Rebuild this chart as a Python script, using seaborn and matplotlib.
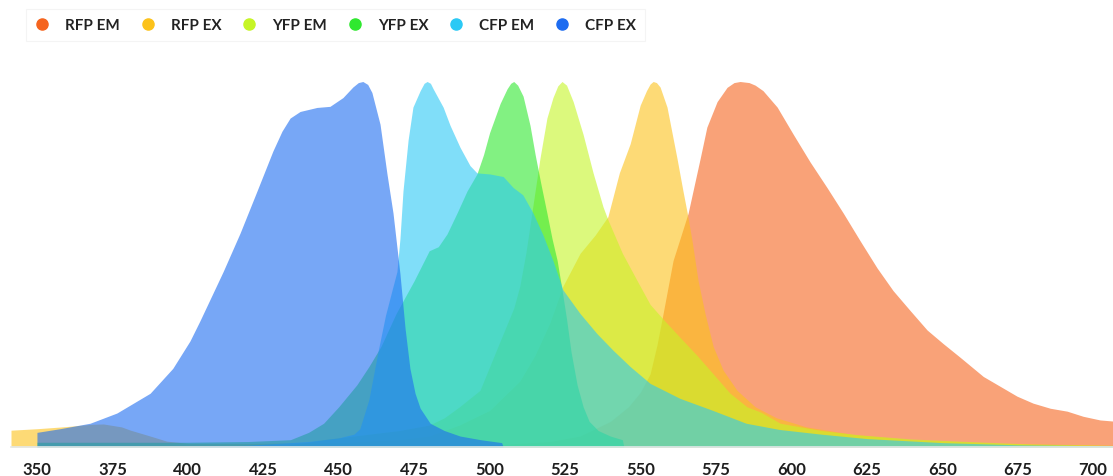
import matplotlib
matplotlib.use("Agg")
import matplotlib.pyplot as plt
from matplotlib.lines import Line2D
import seaborn as sns

# spectra: wavelength (nm) and normalised intensity
rfp_em_nm = [480, 500, 520, 530, 540, 546, 550, 553.2, 555.5, 557.5, 560.8, 563.5, 565.8, 567.4,
             569.8, 572, 575.4, 578.7, 581, 583, 586, 588, 590.6, 595.3, 600.6, 606.2, 611.8,
             617.2, 622.8, 628.4, 633.7, 639.4, 645, 650.3, 656, 663.6, 669.2, 674.8, 680.1,
             685.8, 691.4, 696.7, 702.3, 706.6]
rfp_em = [0.0, 0.005, 0.015, 0.03, 0.07, 0.11, 0.15, 0.20, 0.28, 0.365, 0.51, 0.58, 0.64, 0.70,
          0.79, 0.875, 0.945, 0.984, 0.997, 1.0, 0.997, 0.99, 0.975, 0.93, 0.856, 0.78, 0.71,
          0.64, 0.564, 0.49, 0.428, 0.373, 0.32, 0.283, 0.245, 0.193, 0.166, 0.139, 0.12,
          0.106, 0.098, 0.084, 0.074, 0.071]

rfp_ex_nm = [341.4, 350, 360, 368, 372, 378, 381, 387.5, 393, 400, 420, 450, 470, 480, 490, 500,
             510, 515, 520, 524.3, 530, 535, 539.2, 543, 546.6, 549.9, 552, 553.2, 554.2, 555.3,
             556.5, 558.8, 562.1, 564.1, 565.5, 567.1, 569.1, 571.4, 574.1, 577.4, 582, 588,
             595, 605, 620, 640, 670, 706.6]
rfp_ex = [0.046, 0.05, 0.056, 0.062, 0.063, 0.055, 0.046, 0.03, 0.016, 0.01, 0.01, 0.012, 0.02,
          0.03, 0.06, 0.10, 0.18, 0.25, 0.34, 0.44, 0.53, 0.58, 0.63, 0.75, 0.83, 0.935, 0.975,
          0.993, 1.0, 0.997, 0.985, 0.93, 0.79, 0.70, 0.64, 0.564, 0.455, 0.365, 0.275, 0.21,
          0.155, 0.11, 0.08, 0.055, 0.035, 0.02, 0.01, 0.005]

yfp_em_nm = [430, 445, 460, 470, 480, 485, 490, 496.8, 502.5, 505, 508, 510, 512, 514, 516.7,
             519, 521, 522.6, 524, 525.5, 527.7, 531, 534.3, 537.6, 539.3, 544, 548.9, 553.2,
             557.5, 563.1, 568.8, 574.1, 579.7, 585.3, 590, 596.3, 610, 622.8, 640, 656, 680,
             706.6]
yfp_em = [0.0, 0.02, 0.035, 0.045, 0.06, 0.08, 0.11, 0.155, 0.27, 0.32, 0.38, 0.44, 0.53, 0.64,
          0.79, 0.90, 0.956, 0.988, 1.0, 0.99, 0.945, 0.855, 0.75, 0.657, 0.62, 0.53, 0.455,
          0.39, 0.35, 0.30, 0.25, 0.20, 0.147, 0.11, 0.095, 0.065, 0.045, 0.033, 0.022, 0.016,
          0.008, 0.004]

yfp_ex_nm = [350, 400, 420, 434, 440, 445, 450, 456, 460, 464, 469, 475, 480, 483, 485.9, 489.2,
             492.5, 495.8, 498, 500, 503.5, 505.8, 507, 508, 509.3, 511.1, 513.4, 515.1, 517,
             519, 520.7, 522.4, 524, 525.5, 527, 529, 531, 533, 536, 540, 544, 544.5]
yfp_ex = [0.013, 0.013, 0.015, 0.02, 0.04, 0.065, 0.11, 0.17, 0.22, 0.275, 0.365, 0.455, 0.537,
          0.548, 0.583, 0.64, 0.70, 0.747, 0.80, 0.86, 0.94, 0.98, 0.995, 1.0, 0.99, 0.96,
          0.88, 0.80, 0.72, 0.64, 0.57, 0.51, 0.43, 0.35, 0.26, 0.17, 0.11, 0.07, 0.045, 0.03,
          0.02, 0.0]

cfp_em_nm = [400, 420, 440, 450, 455, 457, 460, 463, 465.5, 467.7, 469.3, 470.3, 471.3, 473,
             474.6, 477, 478.3, 479.3, 480.4, 481.3, 484.6, 486.9, 490.2, 493.5, 495.8, 500.1,
             504.5, 507.8, 511, 514.4, 517.7, 521, 524.3, 530, 535.6, 541, 546.6, 553.2, 563.1,
             574, 585, 596, 610, 625, 650, 675, 706.6]
cfp_em = [0.0, 0.005, 0.015, 0.025, 0.035, 0.05, 0.13, 0.26, 0.36, 0.43, 0.48, 0.57, 0.70, 0.84,
          0.93, 0.975, 0.995, 1.0, 0.995, 0.98, 0.93, 0.88, 0.82, 0.77, 0.75, 0.747, 0.74, 0.71,
          0.69, 0.64, 0.58, 0.51, 0.43, 0.365, 0.31, 0.264, 0.22, 0.174, 0.133, 0.10, 0.065,
          0.048, 0.035, 0.023, 0.012, 0.006, 0.003]

cfp_ex_nm = [350, 357.6, 367.6, 376.5, 387.5, 395, 400.7, 404, 411.7, 417.3, 422.9, 428.2, 431.2,
             433.9, 437.2, 442.8, 447.1, 451.4, 454.7, 456.5, 458, 459.6, 461, 463.7, 466, 468,
             470.3, 472, 473.6, 475.3, 477, 480.3, 485, 490.2, 497, 504, 504.5]
cfp_ex = [0.04, 0.05, 0.065, 0.093, 0.147, 0.215, 0.29, 0.345, 0.48, 0.585, 0.70, 0.81, 0.864,
          0.90, 0.918, 0.929, 0.932, 0.956, 0.985, 0.997, 1.0, 0.992, 0.97, 0.883, 0.747, 0.64,
          0.474, 0.324, 0.215, 0.147, 0.106, 0.065, 0.045, 0.03, 0.02, 0.012, 0.0]

labels = ["RFP EM", "RFP EX", "YFP EM", "YFP EX", "CFP EM", "CFP EX"]
colors = ["#f5641e", "#fcc21b", "#c6f526", "#2fe82f", "#2bc9f5", "#1d6cf0"]
tick_nm = [350, 375, 400, 425, 450, 475, 500, 525, 550, 575, 600, 625, 650, 675, 700]

spectra = [(rfp_em_nm, rfp_em), (rfp_ex_nm, rfp_ex), (yfp_em_nm, yfp_em),
           (yfp_ex_nm, yfp_ex), (cfp_em_nm, cfp_em), (cfp_ex_nm, cfp_ex)]

sns.set_theme(style="white")
plt.rcParams["font.family"] = ["Lato", "DejaVu Sans"]

fig = plt.figure(figsize=(11.13, 4.77), dpi=100)
ax = fig.add_axes([11 / 1113, 29 / 477, 1102 / 1113, 365.5 / 477])

# legend order is also the drawing order (CFP EX ends on top)
for (nm, val), col in zip(spectra, colors):
    ax.fill_between(nm, val, 0, color=col, alpha=0.6, linewidth=0)

ax.set_xlim(341.4, 706.6)
ax.set_ylim(0, 1.0)
ax.set_yticks([])
ax.set_xticks(tick_nm)
ax.set_xticklabels([str(t) for t in tick_nm], fontsize=12, fontweight="bold", color="#1e1e1e")
ax.tick_params(axis="x", length=0, pad=10)
sns.despine(ax=ax, left=True)
ax.spines["bottom"].set_color("#e3e8ea")
ax.spines["bottom"].set_linewidth(1.2)

handles = [Line2D([], [], marker="o", linestyle="", markersize=8,
                  markerfacecolor=c, markeredgecolor=c) for c in colors]
leg = fig.legend(handles, labels, loc="center left", bbox_to_anchor=(18 / 1113, 1 - 26 / 477),
                 ncol=6, frameon=True, fancybox=False, edgecolor="#f2f2f2",
                 handlelength=1.0, handletextpad=1.0, columnspacing=1.32, borderpad=0.6,
                 prop={"family": ["Lato", "DejaVu Sans"], "weight": "bold", "size": 11},
                 labelcolor="#222222")
leg.get_frame().set_linewidth(0.8)

fig.savefig("out.png", dpi=100)
